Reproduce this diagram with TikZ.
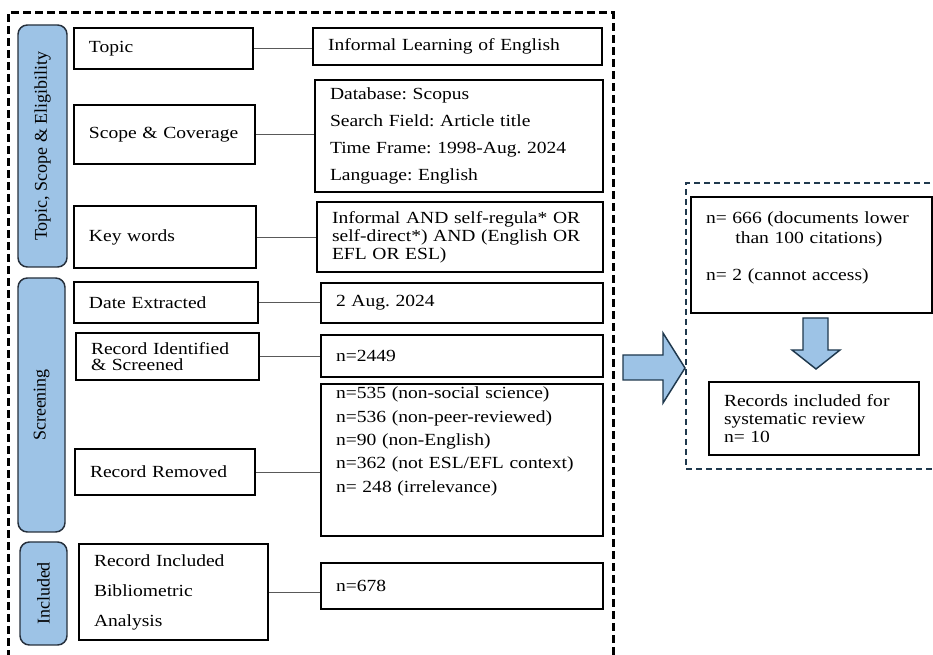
\documentclass[tikz,border=0pt]{standalone}
\usepackage{fontspec}
\setmainfont{Liberation Serif}[FakeStretch=1.15]
\newfontfamily\tabfont{Liberation Serif}
\usepackage{xcolor}
\usetikzlibrary{positioning}
\definecolor{tabblue}{RGB}{157,195,230}
\definecolor{tabline}{RGB}{38,48,60}
\definecolor{navy}{RGB}{31,56,77}
\frenchspacing

\begin{document}
\begin{tikzpicture}[x=0.75pt, y=-0.75pt,
  box/.style={rectangle, draw=black, line width=1.3pt, align=left, inner xsep=11.25pt, inner ysep=2pt, font=\fontsize{12.75}{13.5}\selectfont},
  tab/.style={rectangle, rounded corners=7pt, draw=tabline, fill=tabblue, line width=1.1pt, rotate=90, font=\tabfont\fontsize{13.5}{15}\selectfont},
  link/.style={draw=black!65, line width=0.6pt},
  bigframe/.style={draw=black, line width=2.25pt, dash pattern=on 6pt off 3pt},
  panelframe/.style={draw=navy, line width=1.5pt, dash pattern=on 4.5pt off 3pt},
  blockarrow/.style={draw=navy, fill=tabblue, line width=1.1pt, line join=miter}]
\useasboundingbox (0,0) rectangle (933,655);

\draw[bigframe] (8,670) |- (613,13) -- (613,670);
\draw[panelframe] (950,183) -| (686,469) -- (950,469);

\node (tabTSE) [tab, minimum width=181.5pt, minimum height=36.75pt] at (42.5,146) {Topic, Scope \& Eligibility};
\node (tabScr) [tab, minimum width=190.5pt, minimum height=35.25pt] at (41.5,405) {Screening};
\node (tabInc) [tab, minimum width=77.25pt, minimum height=35.25pt] at (43.5,593.5) {Included};

\node (topic) [box, text width=111.75pt, minimum height=30.75pt] at (163.5,48.5) {Topic};
\node (scope) [box, text width=113.25pt, minimum height=44.25pt] at (164.5,134.5) {\mbox{Scope \& Coverage}};
\node (keys) [box, text width=114pt, minimum height=46.5pt] at (165,237) {Key words};
\node (date) [box, text width=115.5pt, minimum height=30.75pt] at (166,302.5) {Date Extracted};
\node (ident) [box, text width=114.75pt, minimum height=35.25pt] at (167.5,356.5) {Record Identified\\[-1.5pt]\& Screened};
\node (removed) [box, text width=112.5pt, minimum height=34.5pt] at (165,472) {Record Removed};
\node (incl) [box, text width=119.25pt, minimum height=72pt] at (173.5,592) {Record Included\\[9pt]Bibliometric\\[9pt]Analysis};

\node (topicR) [box, text width=194.25pt, minimum height=27.75pt] at (457.5,46.5) {Informal Learning of English};
\node (scopeR) [box, text width=193.5pt, minimum height=84pt] at (459,136) {Database: Scopus\\[6.75pt]Search Field: Article title\\[6.75pt]Time Frame: 1998-Aug. 2024\\[6.75pt]Language: English};
\node (keysR) [box, text width=192pt, minimum height=52.5pt] at (460,237) {\mbox{Informal AND self-regula* OR}\\\mbox{self-direct*) AND (English OR}\\EFL OR ESL)};
\node (dateR) [box, text width=189pt, minimum height=30pt] at (462,303) {2 Aug. 2024};
\node (identR) [box, text width=189pt, minimum height=31.5pt] at (462,356) {n=2449};
\node (removedR) [box, text width=189pt, minimum height=114pt] at (462,460) {n=535 (non-social science)\\[4.1pt]n=536 (non-peer-reviewed)\\[4.1pt]n=90 (non-English)\\[4.1pt]\mbox{n=362 (not ESL/EFL context)}\\[4.1pt]n= 248 (irrelevance)\rule[-30.6pt]{0pt}{0pt}};
\node (inclR) [box, text width=189pt, minimum height=34.5pt] at (462,586) {n=678};

\node (excl) [box, text width=158.25pt, minimum height=87pt] at (811.5,255) {n= 666 (documents lower\\[1.5pt]\hspace*{22pt}than 100 citations)\\[14.25pt]n= 2 (cannot access)\rule[-12.6pt]{0pt}{0pt}};
\node (final) [box, text width=135pt, minimum height=54.75pt] at (814,418.5) {Records included for\\systematic review\\n= 10};

\draw[link] (topic.east) -- (topic.east -| topicR.west);
\draw[link] (scope.east) -- (scope.east -| scopeR.west);
\draw[link] (keys.east) -- (keys.east -| keysR.west);
\draw[link] (date.east) -- (date.east -| dateR.west);
\draw[link] (ident.east) -- (ident.east -| identR.west);
\draw[link] (removed.east) -- (removed.east -| removedR.west);
\draw[link] (incl.east) -- (incl.east -| inclR.west);

\draw[blockarrow] (623,355) -- (663,355) -- (663,333) -- (685,368) -- (663,403) -- (663,380) -- (623,380) -- cycle;
\draw[blockarrow] (803,318) -- (828,318) -- (828,350) -- (840,350) -- (816,369) -- (792,350) -- (803,350) -- cycle;
\end{tikzpicture}
\end{document}
